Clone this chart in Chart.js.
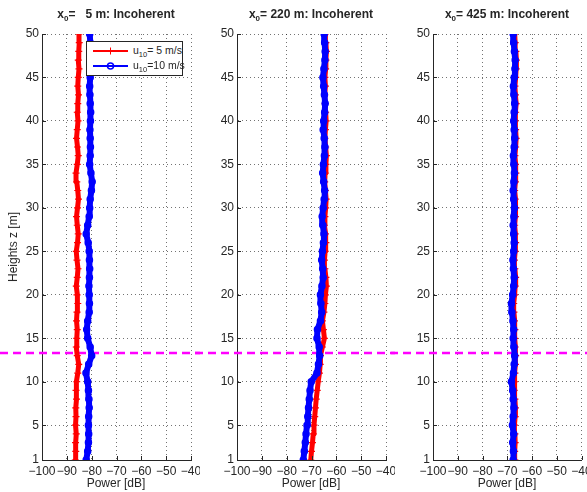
<!DOCTYPE html>
<html>
<head>
<meta charset="utf-8">
<script src="https://cdn.jsdelivr.net/npm/chart.js@4/dist/chart.umd.min.js"></script>
<style>
body { margin: 0; background: #fff; width: 587px; height: 492px; overflow: hidden; position: relative;
       font-family: "Liberation Sans", Arial, sans-serif; color: #262626; }
canvas { position: absolute; top: 0; }
.ttl { position: absolute; top: 7px; font-weight: bold; font-size: 12px; line-height: 14px; white-space: pre; transform: translateX(-50%); }
.ttl sub, .lg sub { font-size: 8px; vertical-align: -3px; line-height: 0; }
.lg sub { font-size: 7.5px; }
.xl { position: absolute; top: 476px; font-size: 12px; line-height: 14px; transform: translateX(-50%); white-space: nowrap; }
.yl { position: absolute; left: 13px; top: 247px; font-size: 12px; line-height: 14px; white-space: nowrap; transform: translate(-50%, -50%) rotate(-90deg); }
#legend { position: absolute; left: 86px; top: 41px; width: 95px; height: 33px; border: 1px solid #262626; background: #fff; z-index: 5; }
.lg { position: absolute; left: 46px; font-size: 10.5px; line-height: 12px; white-space: pre; }
#legend svg { position: absolute; left: 0; top: 0; }
</style>
</head>
<body>
<canvas id="c1" width="200" height="492" style="left:0px"></canvas>
<canvas id="c2" width="200" height="492" style="left:195px"></canvas>
<canvas id="c3" width="196" height="492" style="left:391px"></canvas>

<div class="ttl" style="left:116px">x<sub>0</sub>=   5 m: Incoherent</div>
<div class="ttl" style="left:311px">x<sub>0</sub>= 220 m: Incoherent</div>
<div class="ttl" style="left:507px">x<sub>0</sub>= 425 m: Incoherent</div>
<div class="xl" style="left:116px">Power [dB]</div>
<div class="xl" style="left:311px">Power [dB]</div>
<div class="xl" style="left:507px">Power [dB]</div>
<div class="yl">Heights z [m]</div>

<div id="legend">
  <svg width="95" height="33">
    <line x1="6" y1="9" x2="41" y2="9" stroke="#ff0000" stroke-width="2"/>
    <line x1="20" y1="9" x2="27" y2="9" stroke="#ff0000" stroke-width="1"/>
    <line x1="23.5" y1="5.5" x2="23.5" y2="12.5" stroke="#ff0000" stroke-width="1"/>
    <line x1="6" y1="24" x2="41" y2="24" stroke="#0000ff" stroke-width="2"/>
    <circle cx="23.5" cy="24" r="3" fill="none" stroke="#0000ff" stroke-width="1.5"/>
  </svg>
  <div class="lg" style="top:2px">u<sub>10</sub>= 5 m/s</div>
  <div class="lg" style="top:17px">u<sub>10</sub>=10 m/s</div>
</div>

<script>
// heights z [m]
const heights = [1, 2, 3, 4, 5, 6, 7, 8, 9, 10, 11, 12, 13, 14, 15, 16, 17, 18, 19, 20,
  21, 22, 23, 24, 25, 26, 27, 28, 29, 30, 31, 32, 33, 34, 35, 36, 37, 38, 39, 40,
  41, 42, 43, 44, 45, 46, 47, 48, 49, 50];

const xTicks = [-100, -90, -80, -70, -60, -50, -40];
const yTicks = [1, 5, 10, 15, 20, 25, 30, 35, 40, 45, 50];
const cutHeight = 13.3;

// x0 = 5 m
const p1Red = [-86.6, -86.4, -86.5, -86.2, -86.5, -86.3, -86.4, -86.1, -86.3, -86.0,
  -85.6, -85.2, -85.8, -86.2, -86.0, -85.8, -86.1, -85.9, -85.6, -85.9,
  -86.2, -85.8, -85.5, -85.9, -86.2, -85.7, -85.4, -85.8, -86.1, -85.7,
  -85.3, -85.6, -86.0, -86.3, -85.8, -85.4, -85.7, -86.1, -85.8, -85.5,
  -85.8, -85.6, -85.3, -85.6, -85.4, -85.1, -85.4, -85.2, -85.0, -85.1];
const p1Blue = [-82.2, -81.6, -81.3, -81.2, -81.3, -81.2, -81.0, -81.1, -81.3, -81.6,
  -82.3, -81.2, -80.0, -80.6, -81.6, -82.0, -81.6, -81.0, -80.9, -81.0,
  -81.1, -80.9, -80.8, -80.9, -81.0, -81.4, -82.2, -81.6, -81.0, -80.8,
  -80.6, -80.1, -79.8, -80.3, -80.8, -80.6, -80.5, -80.6, -80.7, -80.5,
  -80.4, -80.6, -80.7, -80.8, -80.6, -80.4, -80.5, -80.6, -80.6, -80.8];

// x0 = 220 m
const p2Red = [-70.3, -70.0, -69.6, -69.3, -69.0, -68.7, -68.4, -68.1, -67.7, -67.3,
  -66.8, -66.5, -66.4, -65.6, -64.8, -65.2, -65.6, -65.0, -64.6, -64.4,
  -64.0, -64.2, -64.6, -64.8, -64.5, -64.2, -64.4, -64.8, -64.6, -64.3,
  -64.1, -64.4, -64.7, -64.5, -64.2, -64.0, -64.3, -64.6, -64.4, -64.1,
  -64.3, -64.5, -64.7, -64.4, -64.6, -64.3, -64.2, -64.0, -64.2, -64.4];
const p2Blue = [-73.3, -72.9, -72.5, -72.2, -71.8, -71.5, -71.2, -70.9, -70.6, -70.1,
  -67.8, -67.2, -66.7, -66.9, -67.8, -67.6, -66.4, -65.9, -66.2, -66.4,
  -65.8, -65.3, -65.5, -65.9, -65.6, -65.2, -65.0, -65.4, -65.7, -65.3,
  -64.9, -64.7, -65.1, -65.5, -65.2, -64.8, -64.6, -64.9, -65.3, -65.1,
  -64.7, -64.5, -64.8, -65.1, -65.4, -65.0, -64.6, -64.5, -64.7, -64.9];

// x0 = 425 m
const p3Red = [-66.9, -67.0, -66.8, -66.9, -67.1, -66.8, -66.7, -66.9, -67.2, -67.0,
  -66.9, -66.7, -66.6, -66.8, -67.0, -66.9, -67.1, -67.3, -67.4, -67.0,
  -66.8, -66.6, -66.9, -67.1, -66.8, -66.6, -66.8, -67.0, -66.7, -66.5,
  -66.8, -67.0, -66.7, -66.5, -66.7, -66.9, -66.6, -66.4, -66.6, -66.8,
  -66.6, -66.4, -66.7, -66.9, -66.6, -66.4, -66.3, -66.5, -66.8, -67.0];
const p3Blue = [-67.6, -67.5, -67.8, -67.4, -67.9, -67.6, -67.3, -67.6, -67.8, -68.3,
  -67.5, -67.2, -67.0, -67.3, -67.6, -67.4, -67.7, -68.1, -68.3, -67.8,
  -67.4, -67.2, -67.5, -67.7, -67.4, -67.2, -67.4, -67.6, -67.3, -67.1,
  -67.4, -67.6, -67.3, -67.1, -67.3, -67.5, -67.2, -67.0, -67.2, -67.4,
  -67.2, -67.0, -67.3, -67.5, -67.2, -66.9, -66.8, -67.1, -67.4, -67.6];

const FONT = '"Liberation Sans", Arial, sans-serif';

// dashed magenta line across the whole figure
const cutLine = {
  id: 'cutLine',
  beforeDatasetsDraw(chart, args, opts) {
    const y = chart.scales.y.getPixelForValue(cutHeight);
    const ctx = chart.ctx;
    ctx.save();
    ctx.strokeStyle = '#ff00ff';
    ctx.lineWidth = 2.5;
    ctx.setLineDash([8, 5]);
    ctx.lineDashOffset = opts.offset || 0;
    ctx.beginPath();
    ctx.moveTo(0, y);
    ctx.lineTo(chart.width, y);
    ctx.stroke();
    ctx.restore();
  }
};

// matlab-style ticks pointing inward
const innerTicks = {
  id: 'innerTicks',
  afterDraw(chart) {
    const { ctx, chartArea: a, scales: { x, y } } = chart;
    ctx.save();
    ctx.strokeStyle = '#262626';
    ctx.lineWidth = 1;
    ctx.beginPath();
    x.ticks.forEach(t => {
      const px = Math.round(x.getPixelForValue(t.value)) + 0.5;
      ctx.moveTo(px, a.bottom);
      ctx.lineTo(px, a.bottom - 4);
    });
    y.ticks.forEach(t => {
      const py = Math.round(y.getPixelForValue(t.value)) + 0.5;
      ctx.moveTo(a.left, py);
      ctx.lineTo(a.left + 4, py);
    });
    ctx.stroke();
    ctx.restore();
  }
};

function toPoints(vals) {
  return vals.map((v, i) => ({ x: v, y: heights[i] }));
}

function makePanel(id, red, blue, rightPad, offset) {
  const grid = { color: 'rgba(0,0,0,0.55)', lineWidth: 1, drawTicks: false };
  const border = { display: true, color: '#262626', width: 1, dash: [1, 3] };
  const tickFont = { family: FONT, size: 12 };
  return new Chart(document.getElementById(id), {
    type: 'scatter',
    data: {
      datasets: [
        {
          label: 'u10=10 m/s',
          data: toPoints(blue),
          showLine: true,
          order: 0,
          borderColor: '#0000ff',
          borderWidth: 6,
          pointStyle: 'circle',
          pointRadius: 3,
          pointBorderWidth: 1.5,
          pointBorderColor: '#0000ff',
          pointBackgroundColor: '#0000ff'
        },
        {
          label: 'u10= 5 m/s',
          data: toPoints(red),
          showLine: true,
          order: 1,
          borderColor: '#ff0000',
          borderWidth: 5,
          pointStyle: 'cross',
          pointRadius: 3.5,
          pointBorderWidth: 1.2,
          pointBorderColor: '#ff0000'
        }
      ]
    },
    options: {
      responsive: false,
      animation: false,
      devicePixelRatio: 1,
      layout: { padding: { left: 0, right: rightPad, top: 34, bottom: 0 } },
      elements: { line: { tension: 0, borderJoinStyle: 'round', borderCapStyle: 'round' } },
      plugins: {
        legend: { display: false },
        tooltip: { enabled: false },
        cutLine: { offset: offset }
      },
      scales: {
        x: {
          type: 'linear', min: -100, max: -40,
          afterBuildTicks: s => { s.ticks = xTicks.map(v => ({ value: v })); },
          afterFit: s => { s.height = 32; s.paddingLeft = 0; s.paddingRight = 0; },
          grid: grid,
          border: border,
          ticks: {
            padding: 4, color: '#262626', font: tickFont, autoSkip: false, maxRotation: 0,
            callback: v => v < 0 ? '\u2212' + (-v) : String(v)
          }
        },
        y: {
          type: 'linear', min: 1, max: 50,
          afterBuildTicks: s => { s.ticks = yTicks.map(v => ({ value: v })); },
          afterFit: s => { s.width = 42; s.paddingTop = 0; s.paddingBottom = 0; },
          grid: grid,
          border: border,
          ticks: { padding: 3, color: '#262626', font: tickFont, autoSkip: false, callback: v => String(v) }
        }
      }
    },
    plugins: [cutLine, innerTicks]
  });
}

makePanel('c1', p1Red, p1Blue, 9, 0);
makePanel('c2', p2Red, p2Blue, 9, 195);
makePanel('c3', p3Red, p3Blue, 5, 391);
</script>
</body>
</html>
